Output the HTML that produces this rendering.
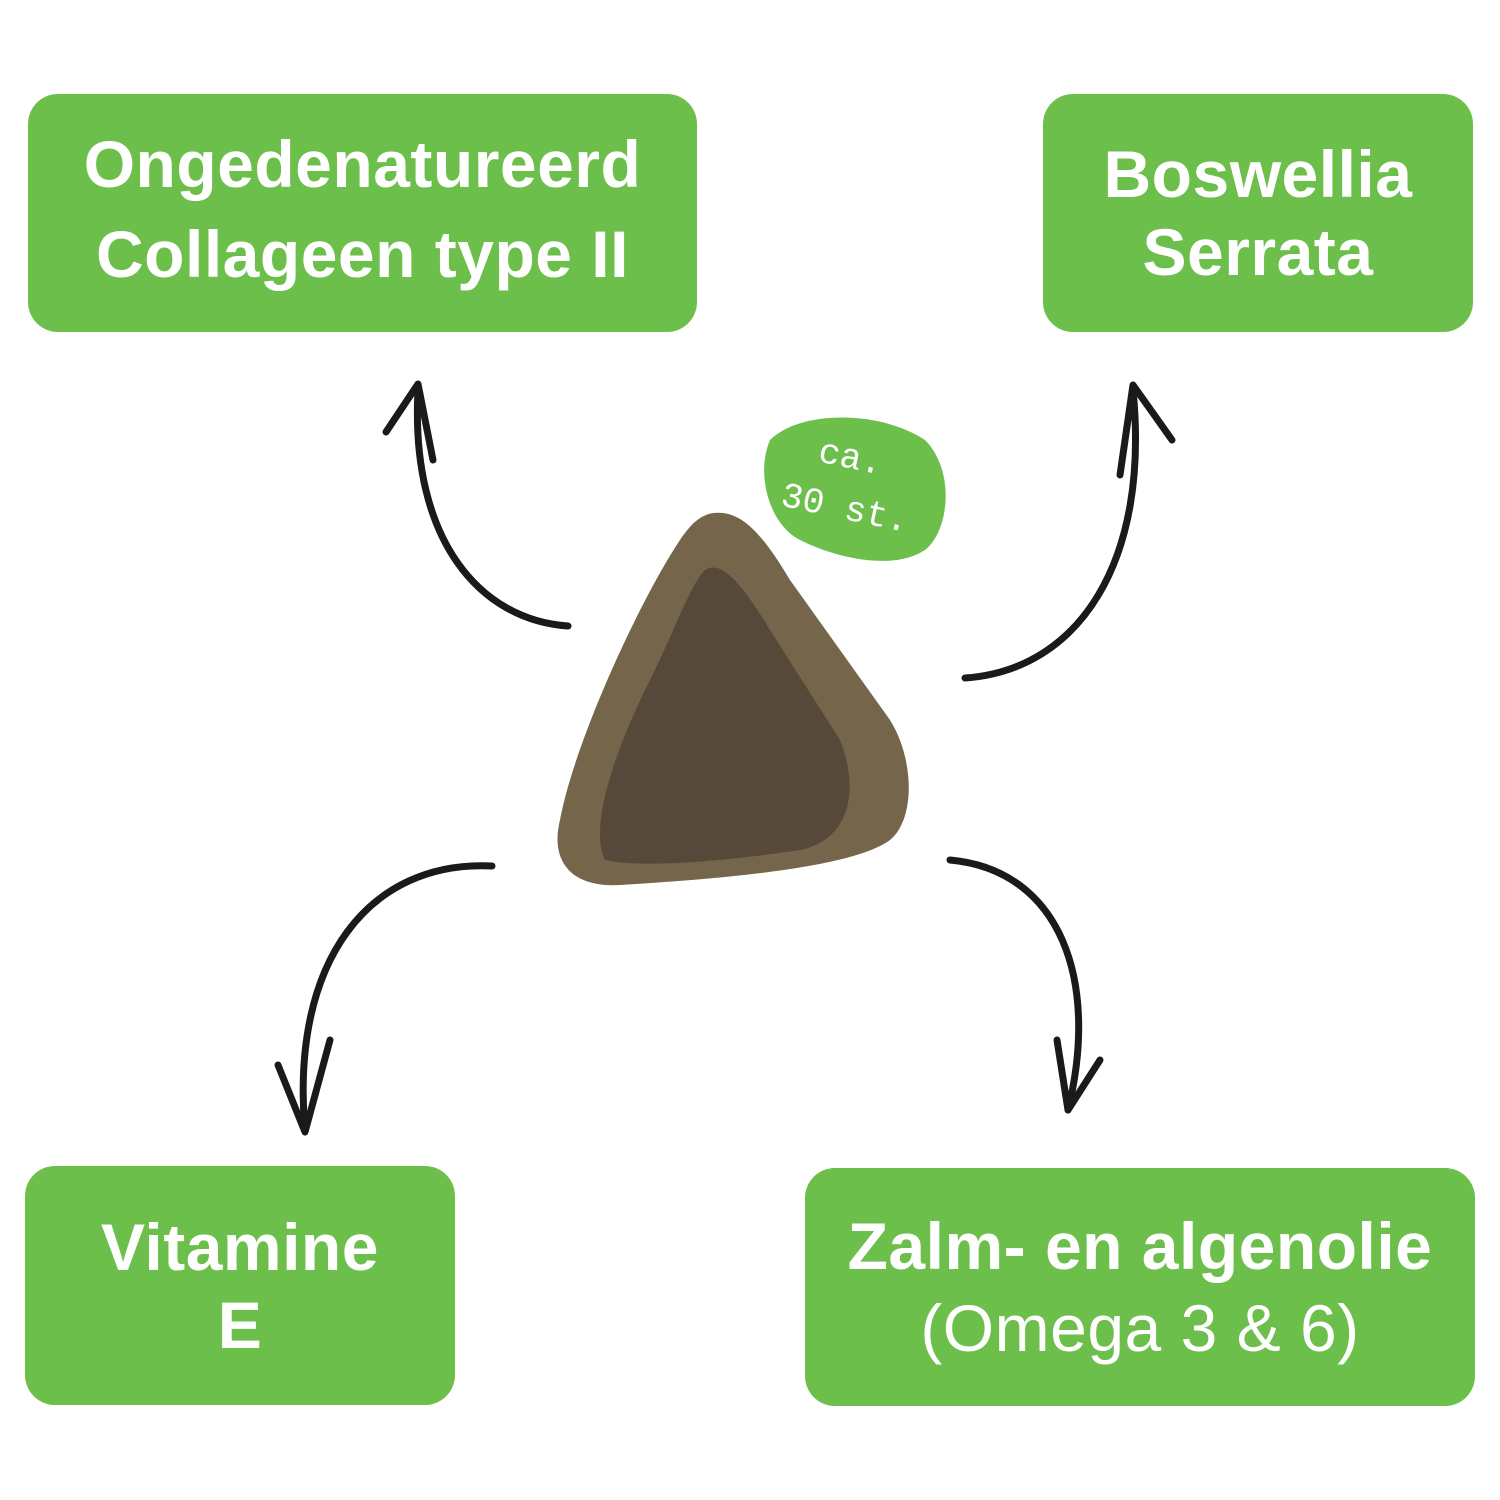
<!DOCTYPE html>
<html><head><meta charset="utf-8"><style>
html,body{margin:0;padding:0;background:#fff;width:1500px;height:1500px;overflow:hidden}
.box{position:absolute;background:#6cbf4b;border-radius:30px;color:#fff;font-family:"Liberation Sans",sans-serif;font-weight:bold;text-align:center;display:flex;flex-direction:column;justify-content:center;font-size:66px;line-height:88px;letter-spacing:0.5px}
</style></head><body>
<div class="box" style="left:28px;top:94px;width:669px;height:238px;line-height:90px;padding-bottom:8px;box-sizing:border-box"><div>Ongedenatureerd</div><div>Collageen type II</div></div>
<div class="box" style="left:1043px;top:94px;width:430px;height:238px;line-height:78px"><div>Boswellia</div><div>Serrata</div></div>
<div class="box" style="left:25px;top:1166px;width:430px;height:239px;line-height:78px"><div>Vitamine</div><div>E</div></div>
<div class="box" style="left:805px;top:1168px;width:670px;height:238px;line-height:82px"><div>Zalm- en algenolie</div><div style="font-weight:normal">(Omega 3 &amp; 6)</div></div>
<svg width="1500" height="1500" style="position:absolute;left:0;top:0">
<g fill="none" stroke="#1a1a1a" stroke-width="7" stroke-linecap="round" stroke-linejoin="round">
<path d="M568 626 C480 620 410 540 418 390"/>
<path d="M386 432 L418 384 L433 460"/>
<path d="M965 678 C1080 670 1150 560 1133 390"/>
<path d="M1120 475 L1133 385 L1172 440"/>
<path d="M492 866 C370 860 290 960 305 1130"/>
<path d="M278 1065 L305 1132 L330 1040"/>
<path d="M950 860 C1060 870 1100 980 1068 1110"/>
<path d="M1057 1040 L1068 1110 L1100 1060"/>
</g>
<path d="M713 513 C740 510 760 530 790 580 L890 720 C915 760 915 820 890 840 C850 870 700 880 620 885 C570 888 550 860 560 820 C575 740 640 600 680 540 C690 525 700 515 713 513 Z" fill="#75654a"/>
<path d="M705 570 C720 560 740 580 770 630 L840 740 C860 790 850 840 800 850 C720 862 640 868 605 860 C590 830 610 760 650 680 C675 630 690 585 705 570 Z" fill="#57493a"/>
<path d="M770 440 C800 410 880 410 925 440 C955 470 950 530 925 550 C895 570 840 560 800 540 C770 525 755 475 770 440 Z" fill="#6cbf4b"/>
<g fill="#fff" font-family="'Liberation Mono',monospace" font-size="36">
<text x="818" y="468" transform="rotate(12 850 460)">ca.</text>
<text x="780" y="520" transform="rotate(12 850 510)">30 st.</text>
</g>
</svg>
</body></html>
